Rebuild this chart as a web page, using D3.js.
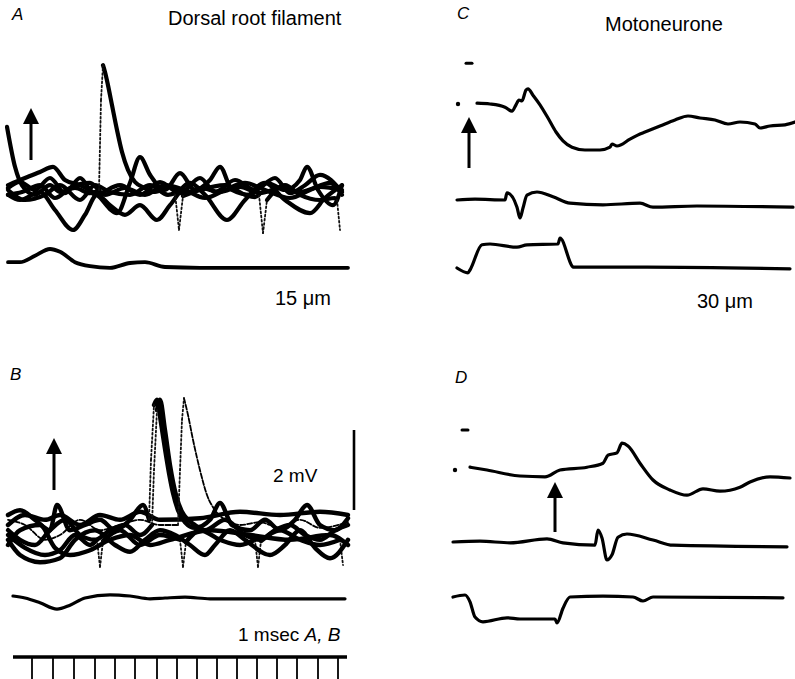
<!DOCTYPE html>
<html>
<head>
<meta charset="utf-8">
<script src="https://cdn.jsdelivr.net/npm/d3@7/dist/d3.min.js"></script>
<style>
  html, body { margin: 0; padding: 0; background: #fff; }
  svg { display: block; }
  text { font-family: "Liberation Sans", Arial, Helvetica, sans-serif; fill: #000; }
</style>
</head>
<body>
<svg id="fig" width="795" height="679"></svg>
<script>
// ---------------- DATA (time in ms, potential in mV relative to each trace's baseline) ----------------
// Panel A – dorsal root filament, superimposed sweeps
const traceA1 = [[0,1.58],[0.04,0.58],[0.075,0.12],[0.14,-0.12],[0.215,0.12],[0.265,-0.05],[0.34,0.05],[0.415,-0.08],[0.46,0],[0.47,2.25],[0.48,3.12],[0.49,2.95],[0.505,2.62],[0.525,2.12],[0.55,1.5],[0.575,0.95],[0.605,0.5],[0.64,0.2],[0.69,0.05],[0.74,-0.05],[0.815,0.1],[0.89,-0.08],[0.965,0.05],[1.065,-0.05],[1.165,0.08],[1.265,-0.08],[1.365,0.05],[1.465,-0.05],[1.565,0.08],[1.675,0]];
const traceA2 = [[0.005,-0.12],[0.065,-0.25],[0.165,-0.05],[0.24,-0.5],[0.33,-1.0],[0.39,-0.62],[0.45,-0.12],[0.515,-0.38],[0.59,-0.62],[0.665,-0.38],[0.75,-0.75],[0.815,-0.38],[0.915,0.18],[0.99,-0.12],[1.1,-0.75],[1.19,-0.25],[1.29,0.18],[1.39,-0.25],[1.515,-0.58],[1.59,-0.2],[1.675,0.12]];
const traceA3 = [[0.005,0.12],[0.09,0.3],[0.165,0.45],[0.23,0.58],[0.29,0.25],[0.365,0.12],[0.45,-0.12],[0.55,-0.58],[0.615,0.18],[0.665,0.82],[0.715,0.38],[0.79,0],[0.865,0.42],[0.94,0],[1.015,0.25],[1.065,0.58],[1.125,0],[1.215,-0.12],[1.3,0.18],[1.39,0],[1.465,0.25],[1.5,0.58],[1.555,0],[1.63,-0.38],[1.675,0.12]];
const traceA4 = [[0.005,0],[0.09,-0.25],[0.19,-0.12],[0.265,0.12],[0.365,-0.25],[0.44,0.12],[0.515,-0.05],[0.615,-0.12],[0.715,0.12],[0.805,-0.12],[0.84,-0.08],[0.86,-1.0],[0.88,-0.15],[0.965,0],[1.09,0.12],[1.19,-0.12],[1.24,-0.18],[1.26,-0.12],[1.28,-1.08],[1.3,-0.25],[1.39,0.12],[1.465,-0.12],[1.565,-0.25],[1.64,-0.2],[1.65,-0.25],[1.665,-1.0]];
const traceA5 = [[0.005,0.05],[0.065,0.2],[0.14,0],[0.215,0.3],[0.29,-0.08],[0.365,0.3],[0.44,-0.12],[0.565,0.12],[0.665,-0.12],[0.765,0.2],[0.865,-0.08],[0.965,0.3],[1.04,-0.05],[1.14,0.25],[1.24,0],[1.34,0.3],[1.415,-0.08],[1.49,0.12],[1.565,0.38],[1.675,-0.05]];
const traceA6 = [[0.005,-0.12],[0.075,-0.05],[0.165,0.12],[0.24,-0.2],[0.315,0.05],[0.415,0.18],[0.49,-0.12],[0.59,0.05],[0.69,-0.12],[0.79,0.12],[0.89,0],[0.99,-0.2],[1.09,0],[1.19,0.18],[1.29,0],[1.415,-0.2],[1.515,0],[1.615,0.18],[1.675,-0.12]];
const stimA = [[0.005,0.12],[0.065,0.12],[0.14,0.28],[0.215,0.45],[0.265,0.38],[0.34,0.12],[0.415,0.02],[0.515,-0.02],[0.615,0.1],[0.69,0.12],[0.79,0],[0.965,-0.02],[1.705,-0.02]];

// Panel B – dorsal root filament, superimposed sweeps
const traceB1 = [[0.005,0.3],[0.065,0.42],[0.14,0.18],[0.215,-0.08],[0.25,0.55],[0.315,-0.08],[0.39,0.05],[0.465,0.18],[0.54,-0.08],[0.615,0.18],[0.68,0.55],[0.71,0.18],[0.72,1.68],[0.735,3.05],[0.75,3.18],[0.77,2.6],[0.79,1.95],[0.81,1.35],[0.83,0.85],[0.855,0.42],[0.89,0.12],[0.94,-0.02],[1.015,0.18],[1.065,0.6],[1.125,0.05],[1.215,-0.08],[1.29,0.18],[1.365,-0.08],[1.44,0.18],[1.5,0.55],[1.565,0.05],[1.64,-0.08],[1.705,0.22]];
const traceB2 = [[0.005,-0.08],[0.065,-0.32],[0.14,-0.45],[0.215,-0.08],[0.29,0.18],[0.365,-0.2],[0.44,-0.32],[0.515,-0.08],[0.59,0.05],[0.665,-0.2],[0.725,0.05],[0.735,1.42],[0.75,2.92],[0.765,3.18],[0.79,2.42],[0.815,1.55],[0.845,0.8],[0.875,0.38],[0.905,0.18],[0.94,0.05],[0.99,-0.08],[1.09,0.18],[1.19,-0.2],[1.265,-0.32],[1.34,-0.08],[1.415,0.05],[1.49,-0.2],[1.565,-0.32],[1.64,-0.08],[1.705,0.05]];
const traceB3 = [[0.005,0.18],[0.09,0.05],[0.19,-0.32],[0.265,-0.2],[0.365,0.18],[0.465,-0.08],[0.565,0.05],[0.665,0.18],[0.765,0.05],[0.855,0.05],[0.865,1.42],[0.875,2.68],[0.885,3.22],[0.905,2.8],[0.93,2.18],[0.965,1.42],[1.0,0.8],[1.04,0.42],[1.09,0.18],[1.165,0.05],[1.265,0.12],[1.365,-0.02],[1.465,0.18],[1.565,-0.02],[1.705,0.12]];
const traceB4 = [[0.005,-0.2],[0.09,-0.52],[0.19,-0.7],[0.265,-0.58],[0.34,-0.2],[0.415,-0.45],[0.45,-0.32],[0.465,-1.0],[0.48,-0.35],[0.565,-0.08],[0.665,-0.45],[0.765,-0.2],[0.865,-0.32],[0.88,-1.0],[0.895,-0.38],[0.965,-0.08],[1.065,-0.32],[1.165,-0.45],[1.24,-0.32],[1.255,-1.0],[1.27,-0.35],[1.365,-0.08],[1.465,-0.32],[1.565,-0.45],[1.665,-0.32],[1.68,-0.95]];
const traceB5 = [[0.005,-0.32],[0.065,-0.7],[0.165,-0.88],[0.265,-0.78],[0.34,-0.32],[0.44,-0.08],[0.54,-0.45],[0.615,-0.62],[0.69,-0.32],[0.765,-0.08],[0.84,-0.2],[0.915,-0.45],[0.99,-0.7],[1.04,-0.45],[1.115,-0.08],[1.19,-0.32],[1.315,-0.7],[1.39,-0.45],[1.465,-0.08],[1.54,-0.52],[1.615,-0.78],[1.705,-0.32]];
const traceB6 = [[0.005,0.05],[0.09,0.3],[0.19,0.18],[0.265,0.3],[0.365,0.05],[0.465,0.3],[0.565,0.18],[0.665,0.38],[0.765,0.18],[0.965,0.22],[1.165,0.38],[1.365,0.3],[1.565,0.38],[1.705,0.3]];
const traceB7 = [[0.005,-0.45],[0.065,-0.08],[0.165,0.05],[0.24,-0.52],[0.315,-0.7],[0.415,-0.58],[0.515,-0.32],[0.615,-0.2],[0.715,-0.45],[0.815,-0.32],[1.015,-0.08],[1.215,-0.2],[1.415,-0.32],[1.615,-0.2],[1.705,-0.45]];
const stimB = [[0.03,0.05],[0.09,0],[0.165,-0.12],[0.25,-0.28],[0.315,-0.18],[0.39,0],[0.515,0.08],[0.615,0.05],[0.715,-0.02],[0.79,0],[0.89,0.02],[1.015,-0.02],[1.69,-0.02]];
const timeMarkRange = [0.03, 1.7];
const timeTicks = [0.125,0.23,0.335,0.44,0.54,0.64,0.75,0.85,0.95,1.05,1.15,1.25,1.35,1.45,1.555,1.655];
const scaleBarMV = 2;

// Panel C – motoneurone
const traceC1 = [[0.1,0.02],[0.165,0],[0.24,-0.08],[0.275,-0.18],[0.295,-0.02],[0.31,0.1],[0.325,0.08],[0.345,0.35],[0.355,0.38],[0.38,0.22],[0.415,-0.02],[0.455,-0.35],[0.495,-0.7],[0.53,-0.92],[0.575,-1.08],[0.64,-1.15],[0.715,-1.15],[0.765,-1.08],[0.775,-1.0],[0.8,-1.05],[0.865,-0.88],[0.915,-0.75],[0.94,-0.7],[1.015,-0.55],[1.09,-0.4],[1.155,-0.3],[1.215,-0.35],[1.29,-0.4],[1.355,-0.5],[1.415,-0.45],[1.49,-0.5],[1.515,-0.6],[1.565,-0.55],[1.64,-0.52],[1.69,-0.45]];
const traceC2 = [[0,0],[0.09,0.02],[0.24,0],[0.25,0.18],[0.3,-0.18],[0.315,-0.45],[0.33,-0.2],[0.35,0.12],[0.4,0.2],[0.48,0.08],[0.565,-0.08],[0.73,-0.12],[0.915,-0.08],[0.98,-0.18],[1.2,-0.15],[1.68,-0.18]];
const traceC3 = [[0,0],[0.055,-0.12],[0.065,-0.05],[0.125,0.58],[0.165,0.6],[0.3,0.52],[0.35,0.58],[0.505,0.6],[0.515,0.75],[0.575,0.05],[0.58,0.02],[0.95,0.02],[1.665,-0.02]];
const spotC = { dot: [0.005, 0], dash: [0.06, 1.02] };

// Panel D – motoneurone
const traceD1 = [[0.065,0.02],[0.15,-0.05],[0.315,-0.2],[0.44,-0.22],[0.515,-0.05],[0.65,0.02],[0.73,0.12],[0.755,0.32],[0.8,0.38],[0.825,0.62],[0.855,0.55],[0.915,0.12],[0.98,-0.3],[1.065,-0.55],[1.15,-0.68],[1.23,-0.52],[1.315,-0.58],[1.415,-0.48],[1.465,-0.35],[1.565,-0.22],[1.665,-0.25]];
const traceD2 = [[-0.02,0],[0.115,0.02],[0.265,-0.02],[0.45,0.08],[0.53,-0.02],[0.69,-0.08],[0.705,0.3],[0.725,0.1],[0.75,-0.45],[0.775,-0.32],[0.805,0.12],[0.85,0.2],[0.98,0.05],[1.08,-0.08],[1.65,-0.12]];
const traceD3 = [[-0.02,0],[0.04,0.05],[0.065,-0.12],[0.09,-0.5],[0.13,-0.62],[0.25,-0.52],[0.315,-0.55],[0.49,-0.55],[0.5,-0.65],[0.53,-0.28],[0.565,0],[0.73,0.02],[0.88,0],[0.93,-0.1],[0.98,0],[1.63,-0.02]];
const spotD = { dot: [-0.01, -0.05], dash: [0.04, 0.95] };

// Stimulus arrow times (ms)
const arrowTimes = { A: 0.12, B: 0.235, C: 0.06, D: 0.49 };

// ---------------- DRAWING ----------------
const svg = d3.select("#fig");
const PX_PER_MS = 200, PX_PER_MV = 40;
const xAB = d3.scaleLinear().domain([0, 1.7]).range([7, 7 + 1.7 * PX_PER_MS]);
const xCD = d3.scaleLinear().domain([0, 1.7]).range([457, 457 + 1.7 * PX_PER_MS]);
const yAt = base => d3.scaleLinear().domain([-1, 1]).range([base + PX_PER_MV, base - PX_PER_MV]);

const yA = yAt(190), yAs = yAt(267);
const yB = yAt(527), yBs = yAt(598);
const yC1 = yAt(104), yC2 = yAt(200), yC3 = yAt(268);
const yD1 = yAt(468), yD2 = yAt(542), yD3 = yAt(597);

function drawTrace(data, x, y, width, opts = {}) {
  const g = svg.append("g");
  const line = d3.line().x(d => x(d[0])).y(d => y(d[1])).curve(d3.curveMonotoneX);
  const straight = d3.line().x(d => x(d[0])).y(d => y(d[1]));
  const fastLimit = opts.fastLimit ?? 8;
  let run = [data[0]];
  const runs = [], fast = [];
  for (let i = 1; i < data.length; i++) {
    const dx = Math.abs(x(data[i][0]) - x(data[i - 1][0])) || 0.01;
    const dy = Math.abs(y(data[i][1]) - y(data[i - 1][1]));
    if (dy / dx > fastLimit) {
      if (run.length > 1) runs.push(run);
      fast.push([data[i - 1], data[i]]);
      run = [data[i]];
    } else run.push(data[i]);
  }
  if (run.length > 1) runs.push(run);
  runs.forEach(r => g.append("path").attr("d", line(r)).attr("fill", "none")
    .attr("stroke", "#000").attr("stroke-width", width)
    .attr("stroke-linejoin", "round").attr("stroke-linecap", "round")
    .attr("stroke-dasharray", opts.dash || null));
  fast.forEach(r => g.append("path").attr("d", straight(r)).attr("fill", "none")
    .attr("stroke", "#111").attr("stroke-width", 1.8)
    .attr("stroke-dasharray", "1.8,2.4").attr("stroke-linecap", "round"));
}

function drawArrow(x, yTip, yBottom) {
  svg.append("line").attr("x1", x).attr("x2", x).attr("y1", yBottom).attr("y2", yTip + 10)
    .attr("stroke", "#000").attr("stroke-width", 3);
  svg.append("path")
    .attr("d", `M${x},${yTip} L${x - 8},${yTip + 16} L${x + 8},${yTip + 16} Z`)
    .attr("fill", "#000");
}

function drawSpots(spot, x, y) {
  svg.append("circle").attr("cx", x(spot.dot[0])).attr("cy", y(spot.dot[1])).attr("r", 2.2).attr("fill", "#000");
  svg.append("line").attr("x1", x(spot.dash[0]) - 3).attr("x2", x(spot.dash[0]) + 3)
    .attr("y1", y(spot.dash[1])).attr("y2", y(spot.dash[1]))
    .attr("stroke", "#000").attr("stroke-width", 3).attr("stroke-linecap", "round");
}

// Panel A
[traceA2, traceA3, traceA4, traceA5, traceA6, traceA1].forEach(t => drawTrace(t, xAB, yA, 4.2));
drawTrace(stimA, xAB, yAs, 3.8);
drawArrow(xAB(arrowTimes.A), yA(0) - 82, yA(0) - 30);

// Panel B
[traceB4, traceB5, traceB6, traceB7, traceB1, traceB2].forEach(t => drawTrace(t, xAB, yB, 4.4));
drawTrace(traceB3, xAB, yB, 1.8, { dash: "5,2" });
drawTrace(stimB, xAB, yBs, 3.2);
drawArrow(xAB(arrowTimes.B), yB(0) - 89, yB(0) - 37);
// 2 mV calibration bar
svg.append("line").attr("x1", 354).attr("x2", 354)
  .attr("y1", yB(0) - 17).attr("y2", yB(0) - 17 - (yB(0) - yB(scaleBarMV)))
  .attr("stroke", "#000").attr("stroke-width", 2.6);
// time marker
const tmY = 657;
svg.append("line").attr("x1", xAB(timeMarkRange[0])).attr("x2", xAB(timeMarkRange[1]))
  .attr("y1", tmY).attr("y2", tmY).attr("stroke", "#000").attr("stroke-width", 3.4);
svg.selectAll(".tick").data(timeTicks).enter().append("line")
  .attr("x1", d => xAB(d)).attr("x2", d => xAB(d))
  .attr("y1", tmY).attr("y2", 679).attr("stroke", "#000").attr("stroke-width", 1.8);

// Panel C
drawTrace(traceC1, xCD, yC1, 3.2);
drawTrace(traceC2, xCD, yC2, 3.2);
drawTrace(traceC3, xCD, yC3, 3.2);
drawSpots(spotC, xCD, yC1);
drawArrow(xCD(arrowTimes.C), yC1(0) + 13, yC1(0) + 64);

// Panel D
drawTrace(traceD1, xCD, yD1, 3.2);
drawTrace(traceD2, xCD, yD2, 3.2);
drawTrace(traceD3, xCD, yD3, 3.2);
drawSpots(spotD, xCD, yD1);
drawArrow(xCD(arrowTimes.D), yD1(0) + 14, yD1(0) + 64);

// ---------------- TEXT ----------------
const T = (x, y, s, size, opts = {}) => svg.append("text").attr("x", x).attr("y", y)
  .attr("font-size", size).attr("font-style", opts.italic ? "italic" : null)
  .attr("text-anchor", opts.anchor || "start").text(s);

T(12, 20, "A", 17, { italic: true });
T(168, 25, "Dorsal root filament", 20);
T(275, 305, "15 \u03bcm", 20);
T(10, 380, "B", 17, { italic: true });
T(273, 482, "2 mV", 19);
const lbl = svg.append("text").attr("x", 238).attr("y", 641).attr("font-size", 19);
lbl.append("tspan").text("1 msec ");
lbl.append("tspan").attr("font-style", "italic").text("A, B");
T(457, 19, "C", 17, { italic: true });
T(605, 31, "Motoneurone", 20);
T(697, 308, "30 \u03bcm", 20);
T(455, 383, "D", 17, { italic: true });
</script>
</body>
</html>
